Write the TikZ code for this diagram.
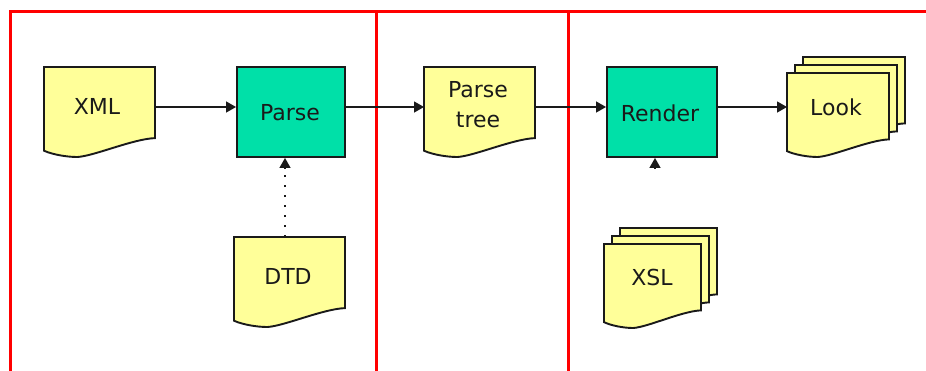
\documentclass[tikz,border=0pt]{standalone}
\usepackage{fontspec}
\setmainfont{DejaVu Sans}
\usetikzlibrary{arrows.meta}
\definecolor{docyellow}{HTML}{FFFF99}
\definecolor{procgreen}{HTML}{00E0A8}
\definecolor{edgeblack}{HTML}{1A1A1A}
\definecolor{laneRed}{HTML}{FF0000}
\tikzset{
  docfill/.style={fill=docyellow, draw=edgeblack, line width=1.9pt, line join=miter},
  procbox/.style={rectangle, fill=procgreen, draw=edgeblack, line width=1.9pt, inner sep=0pt},
  hitbox/.style={rectangle, draw=none, inner sep=0pt, anchor=north west},
  lbl/.style={font=\fontsize{22}{30}\selectfont, text=edgeblack, align=center, inner sep=0pt},
  flow/.style={line width=1.3pt, draw=edgeblack, -{Triangle[length=10pt,width=11pt]}},
  lane/.style={draw=laneRed, line width=3pt},
}
% document shape: x0, y0, width, height (to lowest point of wave)
\newcommand\docsh[4]{%
  \filldraw[docfill] (#1,#2) -- (#1+#3,#2) -- (#1+#3,#2+0.79*#4)
    .. controls (#1+0.8*#3,#2+0.8*#4) and (#1+0.45*#3,#2+0.99*#4) .. (#1+0.3*#3,#2+#4)
    .. controls (#1+0.2*#3,#2+#4) and (#1+0.07*#3,#2+0.97*#4) .. (#1,#2+0.93*#4) -- cycle;}
\begin{document}
\begin{tikzpicture}[x=1pt,y=-1pt]
\useasboundingbox (0,0) rectangle (926,370);
\fill[white] (0,0) rectangle (926,370);
% swim lanes
\draw[lane] (926,11) -- (10,11) -- (10,372);
\draw[lane] (376,11) -- (376,372);
\draw[lane] (568,11) -- (568,372);
% row of the main flow
\coordinate (row) at (0,107);
% XML
\docsh{44}{67}{111}{90}
\node[hitbox, minimum width=111pt, minimum height=71pt] (xml) at (44,67) {};
\node[lbl] (xmlt) at (97,106) {XML};
% Parse
\node[procbox, minimum width=108pt, minimum height=90pt] (parse) at (291,112) {};
\node[lbl] (parset) at (290,113) {Parse};
% DTD
\docsh{234}{237}{111}{90}
\node[hitbox, minimum width=111pt, minimum height=71pt] (dtd) at (234,237) {};
\node[lbl] (dtdt) at (288,276) {DTD};
% Parse tree
\docsh{424}{67}{111}{90}
\node[hitbox, minimum width=111pt, minimum height=71pt] (ptree) at (424,67) {};
\node[lbl] (ptreet) at (478,105) {Parse\\tree};
% Render
\node[procbox, minimum width=110pt, minimum height=90pt] (render) at (662,112) {};
\node[lbl] (rendert) at (660,113) {Render};
% Look (stack)
\docsh{803}{57}{102}{84}
\docsh{795}{65}{102}{84}
\docsh{787}{73}{102}{84}
\node[hitbox, minimum width=102pt, minimum height=66pt] (look) at (787,73) {};
\node[lbl] (lookt) at (836,107) {Look};
% XSL (stack)
\docsh{620}{228}{97}{84}
\docsh{612}{236}{97}{84}
\docsh{604}{244}{97}{84}
\node[hitbox, minimum width=97pt, minimum height=66pt] (xsl) at (604,244) {};
\node[lbl] (xslt) at (652,277) {XSL};
% connectors
\draw[flow] (xml.east |- row) -- (parse.west |- row);
\draw[flow] (parse.east |- row) -- (ptree.west |- row);
\draw[flow] (ptree.east |- row) -- (render.west |- row);
\draw[flow] (render.east |- row) -- (look.west |- row);
\coordinate (dtdx) at (285,0);
\draw[line width=1.6pt, draw=edgeblack, dash pattern=on 1.6pt off 8.4pt] (dtd.north -| dtdx) -- ([yshift=-12pt]parse.south -| dtdx);
\draw[flow] ([yshift=-11pt]parse.south -| dtdx) -- (parse.south -| dtdx);
\coordinate (xslstub) at (655,168);
\draw[flow] (xslstub) -- (xslstub |- render.south);
\end{tikzpicture}
\end{document}
